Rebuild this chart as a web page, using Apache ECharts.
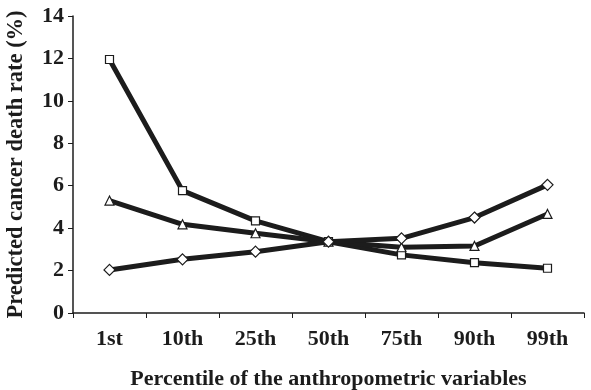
<!DOCTYPE html>
<html>
<head>
<meta charset="utf-8">
<script src="https://cdn.jsdelivr.net/npm/echarts@6/dist/echarts.min.js"></script>
<style>
  html, body { margin: 0; padding: 0; background: #fff; }
  #chart { width: 591px; height: 390px; }
</style>
</head>
<body>
<div id="chart"></div>
<script>
// percentiles on x
var categories = ["1st", "10th", "25th", "50th", "75th", "90th", "99th"];
// three curves
var squareSeries = [11.95, 5.77, 4.34, 3.36, 2.74, 2.37, 2.11];
var triangleSeries = [5.3, 4.18, 3.76, 3.36, 3.1, 3.16, 4.67];
var diamondSeries = [2.03, 2.53, 2.89, 3.36, 3.52, 4.5, 6.04];
var yTicks = { min: 0, max: 14, interval: 2 };

var font = "'Liberation Serif', 'Times New Roman', serif";
var ink = "#1c1c1c";

function line(data, symbol, size) {
  return {
    type: "line",
    data: data,
    symbol: symbol,
    symbolSize: size,
    showAllSymbol: true,
    lineStyle: { color: ink, width: 5 },
    itemStyle: { color: "#fff", borderColor: ink, borderWidth: 1.2 },
    z: 2
  };
}

var chart = echarts.init(document.getElementById("chart"), null, { renderer: "canvas" });
chart.setOption({
  animation: false,
  backgroundColor: "#fff",
  grid: { left: 73, right: 7, top: 16, bottom: 77, containLabel: false, outerBoundsMode: "none" },
  xAxis: {
    type: "category",
    data: categories,
    name: "Percentile of the anthropometric variables",
    nameLocation: "middle",
    nameGap: 55,
    nameTextStyle: { fontFamily: font, fontWeight: "bold", fontSize: 22, color: ink },
    axisLine: { lineStyle: { color: ink, width: 1.5 } },
    axisTick: { show: true, length: 5, lineStyle: { color: ink } },
    axisLabel: { fontFamily: font, fontWeight: "bold", fontSize: 22, color: ink, margin: 15 }
  },
  yAxis: {
    type: "value",
    min: yTicks.min,
    max: yTicks.max,
    interval: yTicks.interval,
    name: "Predicted cancer death rate (%)",
    nameLocation: "middle",
    nameGap: 45,
    nameTextStyle: { fontFamily: font, fontWeight: "bold", fontSize: 22.5, color: ink },
    splitLine: { show: false },
    axisLine: { show: true, lineStyle: { color: ink, width: 1.5 } },
    axisTick: { show: true, length: 5, lineStyle: { color: ink } },
    axisLabel: { fontFamily: font, fontWeight: "bold", fontSize: 22, color: ink, margin: 9 }
  },
  series: [
    line(squareSeries, "rect", 8),
    line(triangleSeries, "triangle", 9),
    line(diamondSeries, "diamond", 11)
  ]
});
</script>
</body>
</html>
